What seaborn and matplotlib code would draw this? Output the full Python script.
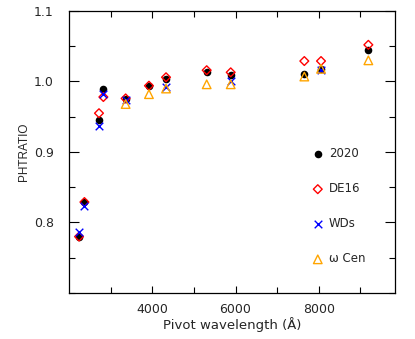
import matplotlib
matplotlib.use("Agg")
import matplotlib.pyplot as plt
import seaborn as sns
import pandas as pd
from matplotlib.ticker import FixedLocator, MultipleLocator

# pivot wavelengths (Angstrom) of the filters
wave = [2240, 2370, 2720, 2825, 3360, 3920, 4330, 5307, 5884, 7652, 8053, 9190]

# PHTRATIO per calibration set
ratio_2020 = [0.780, 0.829, 0.945, 0.990, 0.975, 0.994, 1.003, 1.013, 1.009, 1.010, 1.018, 1.045]
ratio_de16 = [0.780, 0.829, 0.955, 0.978, 0.976, 0.994, 1.006, 1.016, 1.013, 1.029, 1.029, 1.052]

wave_wd = [2240, 2370, 2720, 2825, 3360, 4330, 5884, 8053]
ratio_wd = [0.787, 0.823, 0.937, 0.982, 0.974, 0.992, 1.001, 1.016]

wave_ocen = [3360, 3920, 4330, 5307, 5884, 7652, 8053, 9190]
ratio_ocen = [0.968, 0.982, 0.990, 0.996, 0.996, 1.007, 1.018, 1.030]

sns.set_style("ticks")
plt.rcParams['font.family'] = ['DejaVu Sans']

fig = plt.figure(figsize=(4.15, 3.39), dpi=100)
ax = fig.add_axes([0.1663, 0.1357, 0.7855, 0.8319])

df20 = pd.DataFrame({'wave': wave, 'ratio': ratio_2020})
dfde = pd.DataFrame({'wave': wave, 'ratio': ratio_de16})
dfwd = pd.DataFrame({'wave': wave_wd, 'ratio': ratio_wd})
dfoc = pd.DataFrame({'wave': wave_ocen, 'ratio': ratio_ocen})

sns.scatterplot(data=df20, x='wave', y='ratio', ax=ax, marker='o', s=30,
                color='black', edgecolor='black', linewidth=0, label='2020')
sns.scatterplot(data=dfde, x='wave', y='ratio', ax=ax, marker='D', s=20,
                facecolor='none', edgecolor='red', linewidth=1.0, label='DE16')
sns.scatterplot(data=dfwd, x='wave', y='ratio', ax=ax, marker='x', s=30,
                color='blue', linewidth=1.0, label='WDs')
sns.scatterplot(data=dfoc, x='wave', y='ratio', ax=ax, marker='^', s=38,
                facecolor='none', edgecolor='orange', linewidth=1.0, label='\u03c9 Cen')

ax.set_xlim(2000, 9830)
ax.set_ylim(0.7, 1.1)
ax.xaxis.set_major_locator(FixedLocator([4000, 6000, 8000]))
ax.xaxis.set_minor_locator(FixedLocator([3000, 5000, 7000, 9000]))
ax.yaxis.set_major_locator(FixedLocator([0.8, 0.9, 1.0, 1.1]))
ax.yaxis.set_minor_locator(MultipleLocator(0.05))
ax.set_yticklabels(['0.8', '0.9', '1.0', '1.1'])

ax.tick_params(which='both', direction='in', top=True, right=True, width=0.8, color='black')
ax.tick_params(axis='y', which='major', length=7, pad=11, labelsize=9)
ax.tick_params(axis='y', which='minor', length=4)
ax.tick_params(axis='x', which='major', length=5, pad=7, labelsize=9)
ax.tick_params(axis='x', which='minor', length=4)
for sp in ax.spines.values():
    sp.set_linewidth(0.9)
    sp.set_color('black')

ax.set_xlabel('Pivot wavelength (\u00c5)', fontsize=9.5, labelpad=1)
ax.set_ylabel('PHTRATIO', fontsize=8.5, family='Liberation Sans', labelpad=3)

leg = ax.legend(loc='upper left', bbox_to_anchor=(0.745, 0.517), frameon=False,
                fontsize=8.5, labelspacing=1.87, handletextpad=0.45, handlelength=1.0,
                borderpad=0, borderaxespad=0)

fig.savefig('out.png', dpi=100)
